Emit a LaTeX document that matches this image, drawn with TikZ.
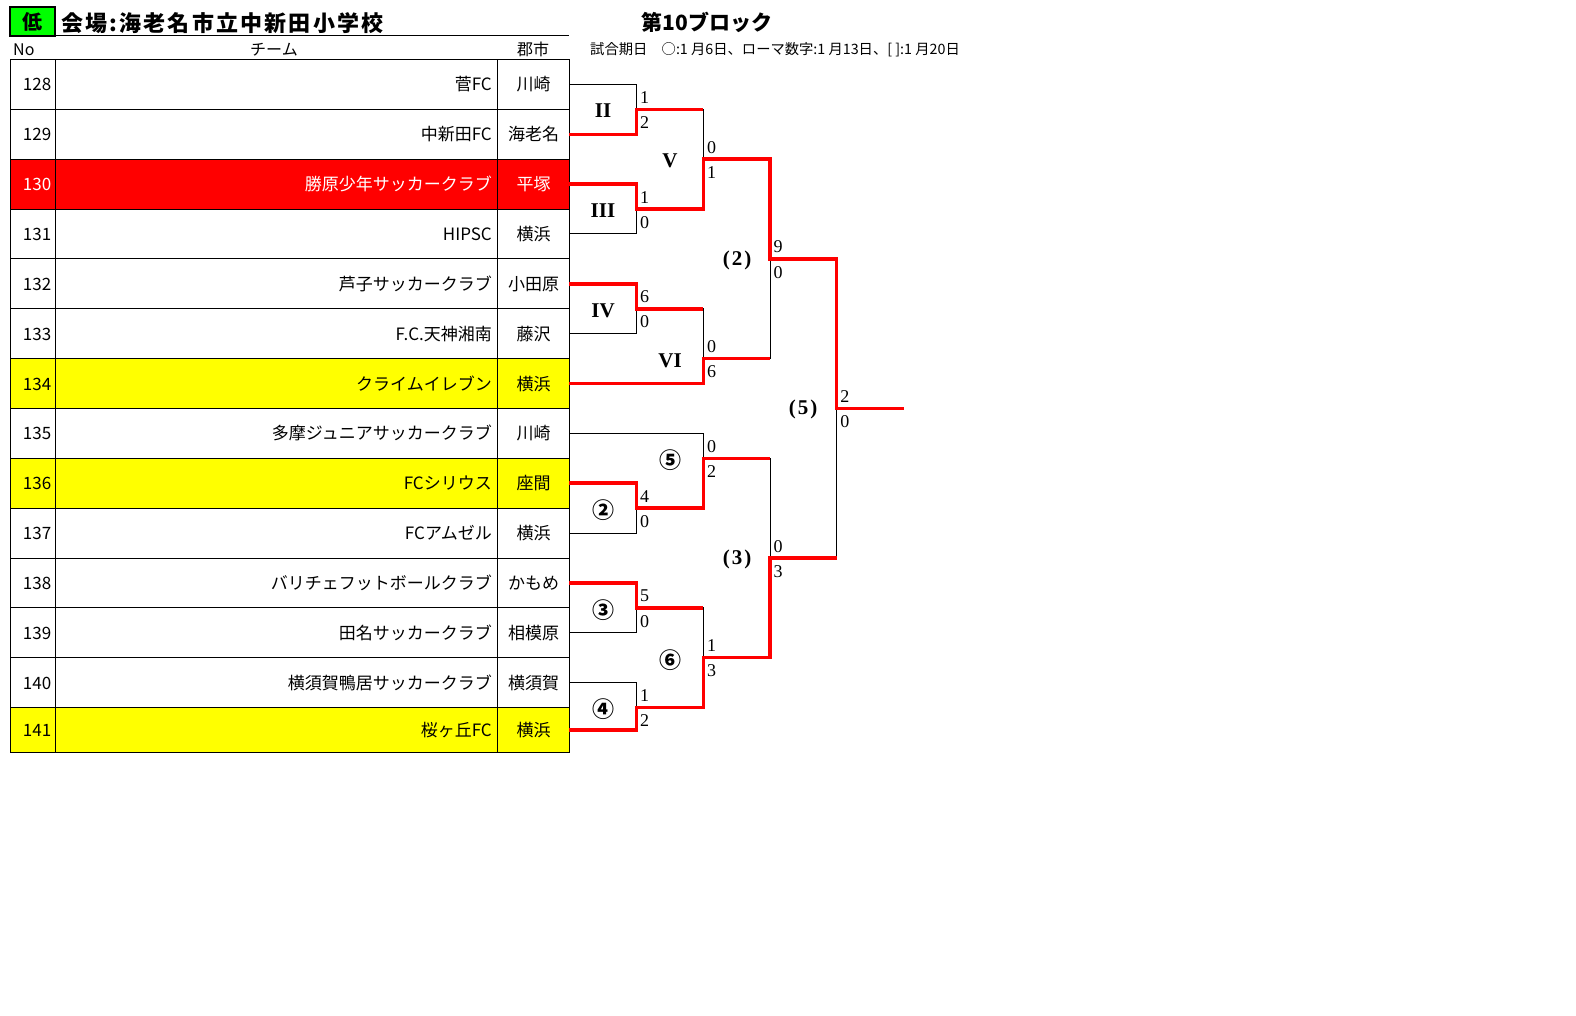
\documentclass[tikz,border=0pt]{standalone}
\usepackage{xcolor}
\usepackage{fontspec}
\setmainfont{Noto Sans CJK JP}
\newfontfamily\scorefont{Liberation Serif}
\usetikzlibrary{positioning}
\definecolor{winred}{rgb}{1,0,0}
\definecolor{seedyellow}{rgb}{1,1,0}
\definecolor{lowgreen}{rgb}{0,1,0}

\begin{document}
\begin{tikzpicture}[x=1pt,y=-1pt,
    thinline/.style={black, line width=1pt},
    winline/.style={winred, line width=3.5pt},
    cell/.style={inner sep=0pt, font=\fontsize{17}{17}\selectfont},
    score/.style={inner sep=0pt, font=\scorefont\fontsize{18}{18}\selectfont},
    roman/.style={inner sep=0pt, font=\scorefont\bfseries\fontsize{21}{21}\selectfont},
    circled/.style={inner sep=0pt, font=\bfseries\fontsize{22}{22}\selectfont}]
  \useasboundingbox (0,0) rectangle (1576,1016);

  % Title
  \node[draw, line width=1.5pt, fill=lowgreen, minimum width=45pt, minimum height=29pt, inner sep=0pt, font=\bfseries\fontsize{20}{20}\selectfont] (low) at (32.6,21.5) {低};
  \node[anchor=base west, inner sep=0pt, font=\bfseries\fontsize{22}{22}\selectfont\addfontfeature{LetterSpace=10}] (venue) at (61,32) {会場:海老名市立中新田小学校};
  \draw[thinline] (55,36) -- (569.4,36);
  \node[anchor=base, inner sep=0pt, font=\bfseries\fontsize{21}{21}\selectfont] (block) at (707,31) {第10ブロック};
  \node[anchor=base west, inner sep=0pt, font=\fontsize{14.3}{14.3}\selectfont] (dates) at (590,55) {試合期日　○:1 月6日、ローマ数字:1 月13日、[ ]:1 月20日};

  % Header row
  \node[cell, anchor=base west, font=\fontsize{16}{16}\selectfont] (hno) at (13,56) {No};
  \node[cell, anchor=base, font=\fontsize{16}{16}\selectfont] (hteam) at (274,56) {チーム};
  \node[cell, anchor=base, font=\fontsize{16}{16}\selectfont] (hcity) at (533,56) {郡市};

  % Teams
  \foreach \k/\no/\team/\city/\bg/\fg/\h in {
      0/128/菅FC/川崎/white/black/49.85,
      1/129/中新田FC/海老名/white/black/49.85,
      2/130/勝原少年サッカークラブ/平塚/winred/white/49.85,
      3/131/HIPSC/横浜/white/black/49.85,
      4/132/芦子サッカークラブ/小田原/white/black/49.85,
      5/133/F.C.天神湘南/藤沢/white/black/49.85,
      6/134/クライムイレブン/横浜/seedyellow/black/49.85,
      7/135/多摩ジュニアサッカークラブ/川崎/white/black/49.85,
      8/136/FCシリウス/座間/seedyellow/black/49.85,
      9/137/FCアムゼル/横浜/white/black/49.85,
      10/138/バリチェフットボールクラブ/かもめ/white/black/49.85,
      11/139/田名サッカークラブ/相模原/white/black/49.85,
      12/140/横須賀鴨居サッカークラブ/横須賀/white/black/49.85,
      13/141/桜ヶ丘FC/横浜/seedyellow/black/44.5}
  {
    \pgfmathsetmacro\rowtop{59.5+49.85*\k}
    \pgfmathsetmacro\rowmid{\rowtop+\h/2}
    \fill[\bg] (10.3,\rowtop) rectangle (569.4,\rowtop+\h);
    \draw[thinline] (10.3,\rowtop) rectangle (569.4,\rowtop+\h);
    \draw[thinline] (55.5,\rowtop) -- (55.5,\rowtop+\h);
    \draw[thinline] (497.5,\rowtop) -- (497.5,\rowtop+\h);
    \node[cell, anchor=base east, text=\fg] (no\no) at (51.5,\rowmid+6.5) {\no};
    \node[cell, anchor=base east, text=\fg] (team\no) at (492,\rowmid+6.5) {\team};
    \node[cell, anchor=base, text=\fg] (city\no) at (533.5,\rowmid+6.5) {\city};
    \coordinate (e\no) at (569.4,\rowmid);
  }

  % Match points
  \coordinate (mII) at (636.5,109.35);
  \coordinate (mIII) at (636.5,209.05);
  \coordinate (mIV) at (636.5,308.75);
  \coordinate (mC2) at (636.5,508.15);
  \coordinate (mC3) at (636.5,607.85);
  \coordinate (mC4) at (636.5,707.55);
  \coordinate (mV) at (703.3,159.2);
  \coordinate (mVI) at (703.3,358.6);
  \coordinate (mC5) at (703.3,458.3);
  \coordinate (mC6) at (703.3,657.7);
  \coordinate (mP2) at (770,258.9);
  \coordinate (mP3) at (770,558);
  \coordinate (mP5) at (836.7,408.45);
  \coordinate (out) at (904,408.45);

  % Bracket lines
  \draw[thinline] (e128) -| (mII);
  \draw[thinline] (e131) -| (mIII);
  \draw[thinline] (e133) -| (mIV);
  \draw[thinline] (e137) -| (mC2);
  \draw[thinline] (e139) -| (mC3);
  \draw[thinline] (e140) -| (mC4);
  \draw[thinline] (e135) -| (mC5);
  \draw[thinline] (mII) -| (mV);
  \draw[thinline] (mIV) -| (mVI);
  \draw[thinline] (mC3) -| (mC6);
  \draw[thinline] (mVI) -| (mP2);
  \draw[thinline] (mC5) -| (mP3);
  \draw[thinline] (mP3) -| (mP5);

  % Winners
  \draw[winline] (e129) -| (mII) -- (mII -| mV);
  \draw[winline] (e130) -| (mIII) -| (mV) -| (mP2) -| (mP5) -- (out);
  \draw[winline] (e132) -| (mIV) -- (mIV -| mVI);
  \draw[winline] (e134) -| (mVI) -- (mVI -| mP2);
  \draw[winline] (e136) -| (mC2) -| (mC5) -- (mC5 -| mP3);
  \draw[winline] (e138) -| (mC3) -- (mC3 -| mC6);
  \draw[winline] (e141) -| (mC4) -| (mC6) -| (mP3) -- (mP3 -| mP5);

  % Match labels
  \node[roman] (lII) at (603,111) {II};
  \node[roman] (lIII) at (603,211) {III};
  \node[roman] (lIV) at (603,311) {IV};
  \node[roman] (lV) at (670,161) {V};
  \node[roman] (lVI) at (670,361) {VI};
  \node[roman] (lP2) at (737,260) {(\hspace{2pt}2\hspace{2pt})};
  \node[roman] (lP3) at (737,559) {(\hspace{2pt}3\hspace{2pt})};
  \node[roman] (lP5) at (803,409) {(\hspace{2pt}5\hspace{2pt})};
  \node[circled] (lC2) at (603,510) {②};
  \node[circled] (lC3) at (603,610) {③};
  \node[circled] (lC4) at (603,709) {④};
  \node[circled] (lC5) at (670,460) {⑤};
  \node[circled] (lC6) at (670,660) {⑥};

  % Scores
  \foreach \m/\a/\b in {mII/1/2, mIII/1/0, mIV/6/0, mV/0/1, mVI/0/6, mP2/9/0,
      mC2/4/0, mC3/5/0, mC4/1/2, mC5/0/2, mC6/1/3, mP3/0/3, mP5/2/0} {
    \node[score, anchor=base west] (\m-a) at ([xshift=3.5pt, yshift=6pt]\m) {\a};
    \node[score, anchor=north west] (\m-b) at ([xshift=3.5pt, yshift=-7pt]\m) {\b};
  }
\end{tikzpicture}
\end{document}
